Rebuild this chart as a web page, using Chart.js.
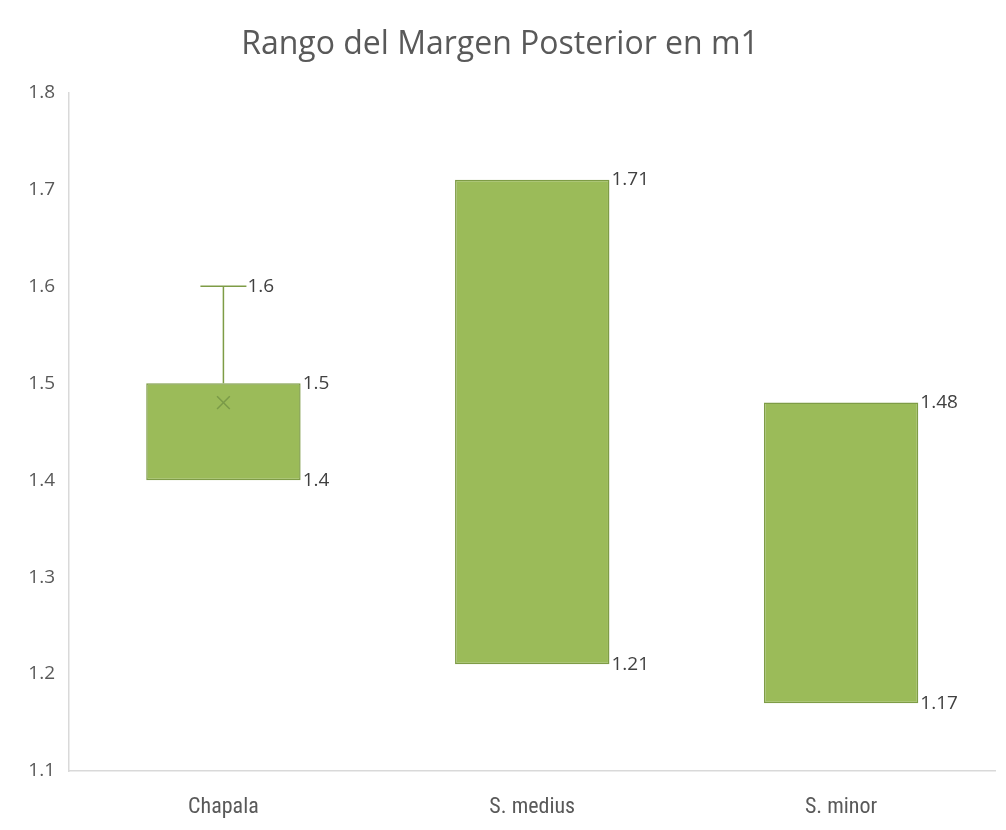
<!DOCTYPE html>
<html>
<head>
<meta charset="utf-8">
<script src="https://cdn.jsdelivr.net/npm/chart.js@4"></script>
<style>
  html, body { margin: 0; padding: 0; background: #fff; }
  #wrap { width: 1006px; height: 830px; }
</style>
</head>
<body>
<div id="wrap"><canvas id="chart" width="1006" height="830"></canvas></div>
<script>
// Box plot data (Excel box & whisker look)
const categories = ['Chapala', 'S. medius', 'S. minor'];
const boxLow     = [1.4, 1.21, 1.17];
const boxHigh    = [1.5, 1.71, 1.48];
const whiskerMax = [1.6, null, null];
const meanValues = [1.48, null, null];

const green     = '#9BBB59';
const greenDark = '#7E9C46';
const textColor = '#595959';

// whisker + cap above the boxes
const whiskerPlugin = {
  id: 'whiskers',
  afterDatasetsDraw(chart) {
    const { ctx, scales: { x, y } } = chart;
    ctx.save();
    ctx.strokeStyle = greenDark;
    ctx.lineWidth = 1.5;
    whiskerMax.forEach((w, i) => {
      if (w == null) return;
      const cx = x.getPixelForValue(i);
      const yTop = y.getPixelForValue(w);
      const yBox = y.getPixelForValue(boxHigh[i]);
      ctx.beginPath();
      ctx.moveTo(cx, yBox);
      ctx.lineTo(cx, yTop);
      ctx.moveTo(cx - 23, yTop);
      ctx.lineTo(cx + 23, yTop);
      ctx.stroke();
    });
    ctx.restore();
  }
};

// value labels next to the right edge of boxes / caps
const labelPlugin = {
  id: 'valueLabels',
  afterDatasetsDraw(chart) {
    const { ctx, scales: { x, y } } = chart;
    const meta = chart.getDatasetMeta(0);
    ctx.save();
    ctx.font = '19px "Open Sans", "DejaVu Sans", sans-serif';
    ctx.fillStyle = '#404040';
    ctx.textAlign = 'left';
    ctx.textBaseline = 'middle';
    meta.data.forEach((bar, i) => {
      const right = bar.x + bar.width / 2 + 2;
      ctx.fillText(String(boxHigh[i]), right, y.getPixelForValue(boxHigh[i]));
      ctx.fillText(String(boxLow[i]), right, y.getPixelForValue(boxLow[i]));
      if (whiskerMax[i] != null) {
        ctx.fillText(String(whiskerMax[i]), x.getPixelForValue(i) + 24, y.getPixelForValue(whiskerMax[i]));
      }
    });
    ctx.restore();
  }
};

new Chart(document.getElementById('chart').getContext('2d'), {
  data: {
    labels: categories,
    datasets: [
      {
        type: 'bar',
        data: categories.map((_, i) => [boxLow[i], boxHigh[i]]),
        backgroundColor: green,
        borderColor: greenDark,
        borderWidth: 1.5,
        borderSkipped: false,
        barPercentage: 0.5,
        categoryPercentage: 1.0,
        order: 2
      },
      {
        type: 'line',
        data: meanValues,
        showLine: false,
        pointStyle: 'crossRot',
        pointRadius: 9,
        pointBorderWidth: 1.5,
        pointBorderColor: '#7a9a48',
        pointBackgroundColor: 'transparent',
        order: 1
      }
    ]
  },
  options: {
    responsive: false,
    animation: false,
    layout: { padding: { left: 0, right: 6, top: 0, bottom: 8 } },
    plugins: {
      legend: { display: false },
      tooltip: { enabled: false },
      title: {
        display: true,
        text: 'Rango del Margen Posterior en m1',
        color: textColor,
        font: { family: '"Open Sans", "DejaVu Sans", sans-serif', size: 32, weight: 'normal' },
        padding: { top: 26, bottom: 28 }
      }
    },
    scales: {
      x: {
        offset: true,
        grid: { display: false },
        border: { display: true, color: '#D9D9D9', width: 1.5 },
        ticks: {
          color: textColor,
          font: { family: '"Liberation Sans Narrow", "Roboto Condensed", "Open Sans", sans-serif', size: 22 },
          padding: 15
        },
        afterFit(scale) { scale.height = 51; }
      },
      y: {
        min: 1.1,
        max: 1.8,
        grid: { display: false },
        border: { display: true, color: '#D9D9D9', width: 1.5 },
        ticks: {
          stepSize: 0.1,
          color: textColor,
          font: { family: '"Open Sans", "DejaVu Sans", sans-serif', size: 19 },
          padding: 6,
          callback: v => Number(v).toFixed(1)
        },
        afterFit(scale) { scale.width = 69; }
      }
    }
  },
  plugins: [whiskerPlugin, labelPlugin]
});
</script>
</body>
</html>
